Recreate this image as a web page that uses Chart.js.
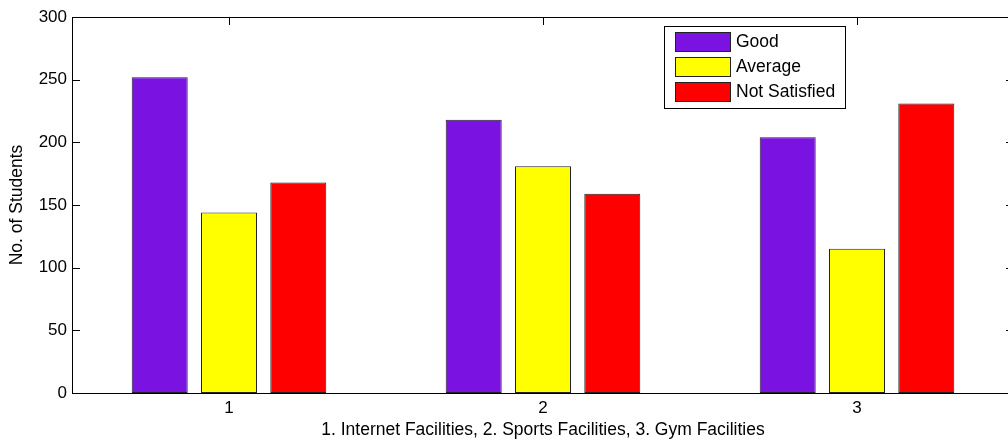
<!DOCTYPE html>
<html>
<head>
<meta charset="utf-8">
<script src="https://cdn.jsdelivr.net/npm/chart.js@4/dist/chart.umd.min.js"></script>
<style>
  html, body { margin: 0; padding: 0; background: #fff; overflow: hidden; }
  #wrap { width: 1016px; height: 443px; }
</style>
</head>
<body>
<div id="wrap"><canvas id="chart" width="1016" height="443"></canvas></div>
<script>
// data
const categories = ["1", "2", "3"];
const good = [252, 218, 204];
const average = [144, 181, 115];
const notSatisfied = [168, 159, 231];
const seriesNames = ["Good", "Average", "Not Satisfied"];
const seriesColors = ["#7a12e2", "#ffff00", "#ff0000"];
const yTicks = [0, 50, 100, 150, 200, 250, 300];

const FONT = "'Liberation Sans', Arial, sans-serif";

/* matlab style box, ticks go under the bars, frame on top */
const boxPlugin = {
    id: "box",
    beforeDatasetsDraw(chart){
        const {ctx, chartArea: a} = chart;
        const x = chart.scales.x, y = chart.scales.y;
        ctx.save();
        ctx.strokeStyle = "#000";
        ctx.lineWidth = 1;
        ctx.beginPath();
        yTicks.forEach(v => {
            const py = Math.round(y.getPixelForValue(v)) + 0.5;
            ctx.moveTo(a.left, py); ctx.lineTo(a.left + 8, py);
            ctx.moveTo(a.right, py); ctx.lineTo(a.right - 8, py);
        });
        categories.forEach((c, i) => {
            const px = Math.round(x.getPixelForValue(i)) + 0.5;
            ctx.moveTo(px, a.top); ctx.lineTo(px, a.top + 8);
            ctx.moveTo(px, a.bottom); ctx.lineTo(px, a.bottom - 8);
        });
        ctx.stroke();
        ctx.restore();
    },
    afterDatasetsDraw(chart){
        const {ctx, chartArea: a} = chart;
        ctx.save();
        ctx.strokeStyle = "#000";
        ctx.lineWidth = 1;
        ctx.strokeRect(Math.round(a.left) + 0.5, Math.round(a.top) + 0.5,
                       Math.round(a.right - a.left), Math.round(a.bottom - a.top));
        ctx.restore();
    },
    afterDraw(chart){
        // legend box in the top right corner
        const {ctx} = chart;
        const bx = 664.5, by = 26.5, bw = 181, bh = 82;
        ctx.save();
        ctx.fillStyle = "#fff";
        ctx.fillRect(bx, by, bw, bh);
        ctx.strokeStyle = "#000";
        ctx.lineWidth = 1;
        ctx.strokeRect(bx, by, bw, bh);
        ctx.font = "17.5px " + FONT;
        ctx.textBaseline = "middle";
        const rows = [32.5, 57.5, 82.5];
        chart.data.datasets.forEach((ds, i) => {
            ctx.fillStyle = ds.backgroundColor;
            ctx.fillRect(675.5, rows[i], 55, 19);
            ctx.strokeStyle = "#222";
            ctx.strokeRect(675.5, rows[i], 55, 19);
            ctx.fillStyle = "#000";
            ctx.fillText(ds.label, 736, rows[i] + 10);
        });
        ctx.restore();
    }
};

const sets = [good, average, notSatisfied].map((d, i) => ({
    label: seriesNames[i],
    data: d,
    backgroundColor: seriesColors[i],
    borderColor: "#222",
    borderWidth: 1,
    borderSkipped: false,
    categoryPercentage: 0.662,
    barPercentage: 0.808
}));

new Chart(document.getElementById("chart"), {
    type: "bar",
    data: { labels: categories, datasets: sets },
    plugins: [boxPlugin],
    options: {
        responsive: false,
        animation: false,
        devicePixelRatio: 1,
        layout: { padding: { left: 0, right: 2, top: 17, bottom: 0 } },
        plugins: {
            legend: { display: false },
            tooltip: { enabled: false }
        },
        scales: {
            x: {
                offset: true,
                grid: { display: false, drawTicks: false },
                border: { display: false },
                ticks: { color: "#000", font: { family: FONT, size: 17 }, padding: 5 },
                title: {
                    display: true,
                    text: "1. Internet Facilities, 2. Sports Facilities, 3. Gym Facilities",
                    color: "#000",
                    font: { family: FONT, size: 17.5 },
                    padding: { top: 0, bottom: 2 }
                },
                afterFit(s){ s.height = 50; }
            },
            y: {
                min: 0,
                max: 300,
                afterBuildTicks(s){ s.ticks = yTicks.map(v => ({ value: v })); },
                grid: { display: false, drawTicks: false },
                border: { display: false },
                ticks: { color: "#000", font: { family: FONT, size: 17 }, padding: 5 },
                title: {
                    display: true,
                    text: "No. of Students",
                    color: "#000",
                    font: { family: FONT, size: 17.5 },
                    padding: { top: 7, bottom: 0 }
                },
                afterFit(s){ s.width = 72; }
            }
        }
    }
});
</script>
</body>
</html>
